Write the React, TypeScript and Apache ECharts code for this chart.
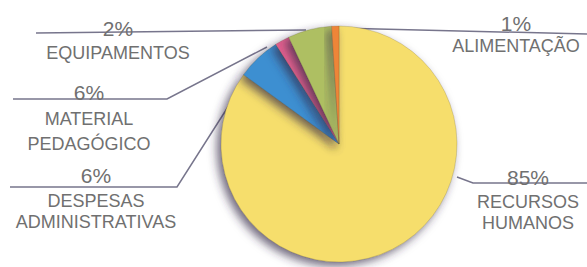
import React, { useEffect, useRef } from "react";
import * as echarts from "echarts";

const names = ["RECURSOS\nHUMANOS", "DESPESAS\nADMINISTRATIVAS", "EQUIPAMENTOS", "MATERIAL\nPEDAGÓGICO", "ALIMENTAÇÃO"];
const values = [85, 6, 2, 6, 1];
const percentLabels = ["85%", "6%", "2%", "6%", "1%"];
const colors = ["#f6de6c", "#3e8fd1", "#e2608e", "#aebf62", "#ee8538"];

// label anchor (center x, top y), text styles and leader-line points, per slice
const labelPos = [
  { x: 528, y: 164, p: "p", n: "n", line: [[457, 177], [473, 183], [587, 183]] },
  { x: 96, y: 161, p: "p3", n: "n", line: [[247, 77], [177, 187], [10, 187]] },
  { x: 118, y: 15, p: "p", n: "n", line: [[306, 30], [36, 33]] },
  { x: 89, y: 79, p: "p", n: "n2", line: [[267, 47], [167, 99], [13, 99]] },
  { x: 516, y: 11, p: "p2", n: "n", line: [[337, 28], [587, 34]] },
];

const font = "Liberation Sans";
const textColor = "#707070";

export default function App() {
  const ref = useRef<HTMLDivElement>(null);
  useEffect(() => {
    if (!ref.current) return;
    const chart = echarts.init(ref.current, null, { renderer: "svg" });
    chart.setOption({
      animation: false,
      backgroundColor: "#ffffff",
      series: [
        {
          type: "pie",
          center: [339, 144],
          radius: [0, 118],
          startAngle: 90,
          clockwise: true,
          data: values.map((v, i) => ({
            value: v,
            name: names[i],
            itemStyle: { color: colors[i] },
          })),
          itemStyle: {
            borderColor: "rgba(80,70,40,0.35)",
            borderWidth: 0.6,
            shadowBlur: 10,
            shadowColor: "rgba(50,40,70,0.7)",
            shadowOffsetX: -4,
            shadowOffsetY: 4,
          },
          label: {
            show: true,
            position: "outside",
            formatter: (p: any) => {
              const lp = labelPos[p.dataIndex];
              return `{${lp.p}|${percentLabels[p.dataIndex]}}\n{${lp.n}|${p.name}}`;
            },
            rich: {
              p: { fontFamily: font, fontSize: 21, color: textColor, lineHeight: 27, align: "center" },
              p2: { fontFamily: font, fontSize: 21, color: textColor, lineHeight: 24, align: "center" },
              p3: { fontFamily: font, fontSize: 21, color: textColor, lineHeight: 29, align: "center" },
              n: { fontFamily: font, fontSize: 18, color: textColor, lineHeight: 21, align: "center" },
              n2: { fontFamily: font, fontSize: 18, color: textColor, lineHeight: 25, align: "center" },
            },
          },
          labelLine: {
            show: true,
            lineStyle: { color: "#77758c", width: 1.5 },
          },
          labelLayout: (params: any) => {
            const lp = labelPos[params.dataIndex];
            return {
              x: lp.x,
              y: lp.y,
              align: "center",
              verticalAlign: "top",
              labelLinePoints: lp.line,
            };
          },
        },
      ],
    });
    return () => chart.dispose();
  }, []);
  return (
    <div
      ref={ref}
      style={{ position: "fixed", left: 0, top: 0, width: 587, height: 267 }}
    />
  );
}
